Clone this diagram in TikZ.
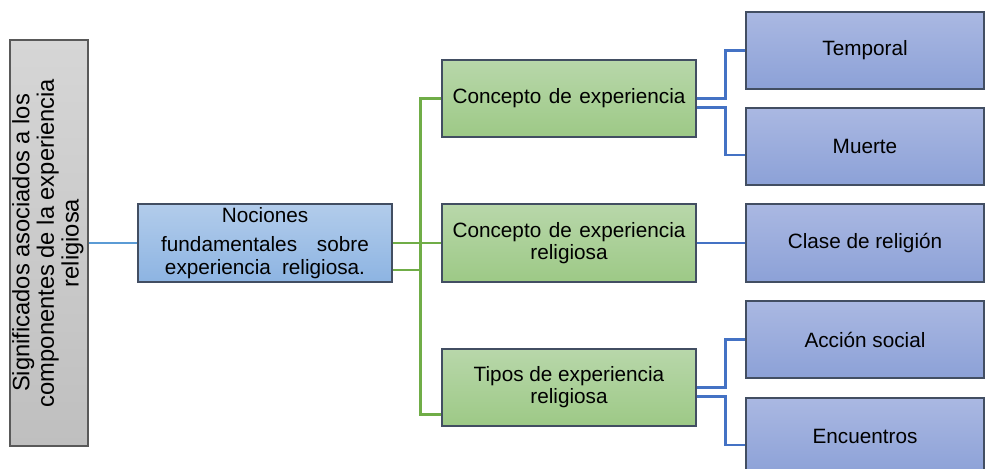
\documentclass[tikz,border=0pt]{standalone}
\usepackage{fontspec}
\setmainfont{Liberation Sans}
\usepackage{graphicx}
\usepackage{tikz}
\usepackage{xcolor}
\definecolor{grtop}{RGB}{214,214,214}
\definecolor{grbot}{RGB}{191,191,191}
\definecolor{nctop}{RGB}{178,204,235}
\definecolor{ncbot}{RGB}{141,180,226}
\definecolor{gntop}{RGB}{184,215,170}
\definecolor{gnbot}{RGB}{157,201,134}
\definecolor{bltop}{RGB}{170,184,226}
\definecolor{blbot}{RGB}{140,161,215}
\definecolor{edge}{RGB}{66,78,98}
\definecolor{lnblue}{RGB}{91,155,213}
\definecolor{lngreen}{RGB}{112,173,71}
\definecolor{lnroyal}{RGB}{68,114,196}
\tikzstyle{box} = [draw=edge, line width=0.7pt, inner sep=0pt, align=center, font=\fontsize{11.8}{12.6}\selectfont]
\tikzstyle{titlebox} = [box, draw=black!65, top color=grtop, bottom color=grbot, minimum width=1.56cm, minimum height=8.12cm, font=\fontsize{13.5}{14}\selectfont]
\tikzstyle{rootbox} = [box, top color=nctop, bottom color=ncbot, minimum width=5.08cm, minimum height=1.56cm]
\tikzstyle{midbox} = [box, top color=gntop, bottom color=gnbot, minimum width=5.08cm, minimum height=1.54cm]
\tikzstyle{leafbox} = [box, top color=bltop, bottom color=blbot, minimum width=4.76cm, minimum height=1.54cm]
\tikzstyle{aline} = [line width=1.6pt, color=lnblue]
\tikzstyle{gline} = [line width=1.6pt, color=lngreen]
\tikzstyle{bline} = [line width=1.6pt, color=lnroyal]

\begin{document}
\begin{tikzpicture}[x=0.02cm, y=-0.02cm]
\useasboundingbox (0,0) rectangle (985,468);

% Boxes
\node[titlebox] (sig) at (49,243) {\rotatebox{90}{\begin{tabular}{@{}c@{}}Significados asociados a los\\ componentes de la experiencia\\ religiosa\end{tabular}}};
\node[rootbox] (noc) at (265,243) {Nociones\\[4pt] fundamentales\hspace{8pt} sobre\\ experiencia\hspace{3pt} religiosa.};
\node[midbox] (cd1) at (569,98.5) {Concepto\hspace{1pt} de\hspace{1pt} experiencia};
\node[midbox, minimum height=1.56cm] (cd2) at (569,243) {Concepto\hspace{1pt} de\hspace{1pt} experiencia\\ religiosa};
\node[midbox] (cd3) at (569,387.5) {Tipos de experiencia\\ religiosa};
\node[leafbox] (tem) at (865,50.5) {Temporal};
\node[leafbox] (mue) at (865,146.5) {Muerte};
\node[leafbox, minimum height=1.56cm] (cla) at (865,243) {Clase de religión};
\node[leafbox] (acc) at (865,339.5) {Acción social};
\node[leafbox] (enc) at (865,436.5) {Encuentros};

% Left links
\draw[aline] (sig) -- (noc);
\coordinate (n2) at ([yshift=-0.54cm]noc.east);
\draw[gline] (noc) -- (cd2);
\draw[gline] (cd1.west) -- ++(-0.42cm,0) coordinate (gt) |- ([yshift=-0.54cm]cd3.west);
\draw[gline] (n2) -- (n2 -| gt);

% Right links
\draw[bline] (cd1.east) -- ++(0.58cm,0) |- (tem.west);
\draw[bline] ([yshift=-0.18cm]cd1.east) -- ++(0.58cm,0) |- ([yshift=-0.17cm]mue.west);
\draw[bline] (cd2) -- (cla);
\draw[bline] (cd3.east) -- ++(0.58cm,0) |- (acc.west);
\draw[bline] ([yshift=-0.18cm]cd3.east) -- ++(0.58cm,0) |- ([yshift=-0.17cm]enc.west);
\end{tikzpicture}
\end{document}
